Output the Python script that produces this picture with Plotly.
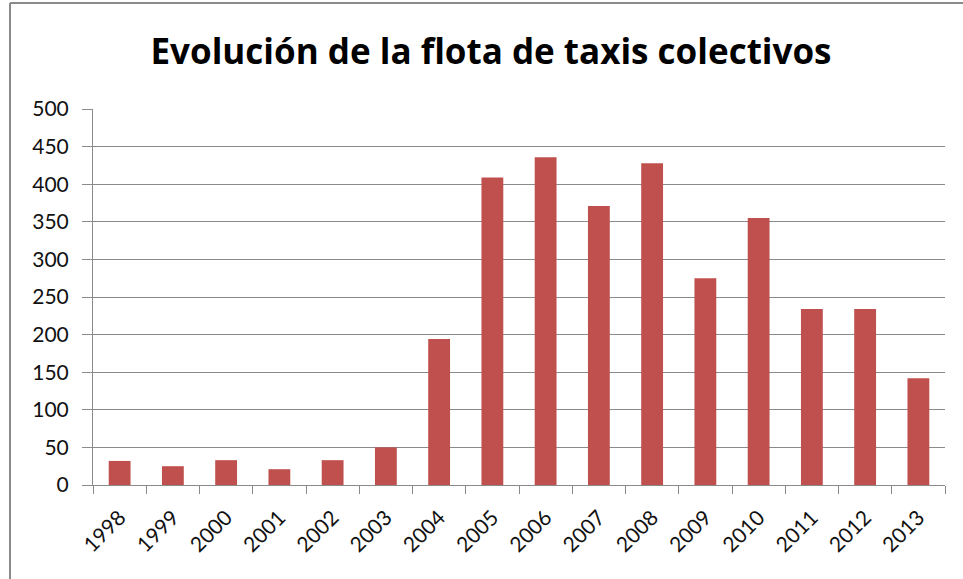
import plotly.graph_objects as go

# 年份与车辆数
years = ["1998", "1999", "2000", "2001", "2002", "2003", "2004", "2005",
         "2006", "2007", "2008", "2009", "2010", "2011", "2012", "2013"]
flota = [32, 25, 33, 21, 33, 50, 194, 409, 436, 371, 428, 275, 355, 234, 234, 142]
y_ticks = [0, 50, 100, 150, 200, 250, 300, 350, 400, 450, 500]

W, H = 963, 579
L, T = 93, 109
R, B = 963 - 945, 579 - 485
pw, ph = W - L - R, H - T - B

fig = go.Figure()
fig.add_trace(go.Bar(
    x=years, y=flota,
    marker_color="#C0504D",
    marker_line=dict(color="#C0504D", width=0),
    name="Flota",
))

# 外框（灰色）
bx = (10 - L) / pw
by = 1 + (T - 3) / ph
fig.add_shape(type="line", xref="paper", yref="paper",
              x0=bx, x1=bx, y0=by, y1=-0.4,
              line=dict(color="#8a8a8a", width=2))
fig.add_shape(type="line", xref="paper", yref="paper",
              x0=bx, x1=1.2, y0=by, y1=by,
              line=dict(color="#8a8a8a", width=2))

fig.update_layout(
    width=W, height=H,
    title=dict(text="<b>Evolución de la flota de taxis colectivos</b>",
               x=491 / W, xanchor="center",
               y=1 - 52 / H, yanchor="middle",
               font=dict(family="Open Sans", size=35, color="#000")),
    margin=dict(l=L, r=R, t=T, b=B),
    plot_bgcolor="white", paper_bgcolor="white",
    bargap=0.59,
    showlegend=False,
    font=dict(family="Lato", size=21, color="#111"),
    xaxis=dict(
        type="category",
        showline=True, linecolor="#8a8a8a", linewidth=1,
        ticks="outside", tickson="boundaries", ticklen=8,
        tickcolor="#8a8a8a", tickangle=-45,
        ticklabelstandoff=11,
        showgrid=False,
    ),
    yaxis=dict(
        range=[0, 500], tickvals=y_ticks,
        showline=True, linecolor="#8a8a8a", linewidth=1,
        ticks="outside", ticklen=10, tickcolor="#8a8a8a",
        ticklabelstandoff=9,
        showgrid=True, gridcolor="#8a8a8a", gridwidth=1,
        zeroline=False,
    ),
)

# 去掉页面 body 的默认边距
fig.write_html("out.html", config={"displayModeBar": False},
               post_script="document.body.style.margin='0';")
